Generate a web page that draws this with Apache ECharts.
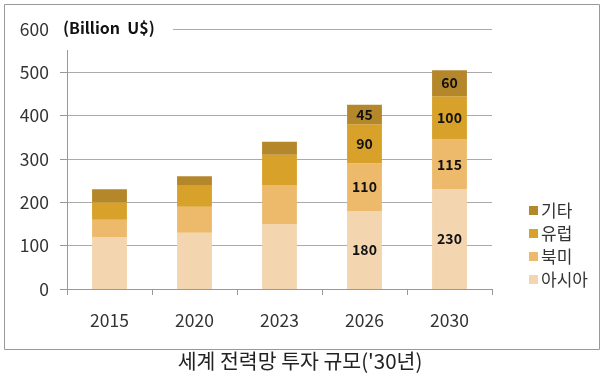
<!DOCTYPE html>
<html><head><meta charset="utf-8">
<script src="https://cdn.jsdelivr.net/npm/echarts@6/dist/echarts.min.js"></script>
<style>html,body{margin:0;padding:0;background:#fff}#c{width:600px;height:378px}</style>
</head><body><div id="c"></div>
<script>
const categories = ['2015', '2020', '2023', '2026', '2030'];
const asia = [120, 130, 150, 180, 230];
const northAmerica = [40, 60, 90, 110, 115];
const europe = [40, 50, 70, 90, 100];
const others = [30, 20, 30, 45, 60];
const seriesNames = ['아시아', '북미', '유럽', '기타'];
const labelledFrom = 3; // value labels shown for 2026 and 2030
const yTicks = [0, 100, 200, 300, 400, 500, 600];

const colors = ['#F3D5B0', '#EDBA6C', '#D8A22A', '#B5872B'];
const FONT = '"Noto Sans CJK KR", "Noto Sans", sans-serif';
const chart = echarts.init(document.getElementById('c'), null, {renderer: 'canvas'});
const values = [asia, northAmerica, europe, others];
const series = values.map((arr, k) => ({
  name: seriesNames[k],
  type: 'bar',
  stack: 'total',
  barWidth: '41%',
  itemStyle: {color: colors[k]},
  data: arr,
  label: {
    show: true,
    position: 'inside',
    color: '#111',
    fontWeight: 'bold',
    fontSize: 14,
    fontFamily: FONT,
    formatter: p => p.dataIndex >= labelledFrom ? String(p.value) : ''
  },
  emphasis: {disabled: true}
}));
chart.setOption({
  animation: false,
  backgroundColor: '#fff',
  grid: {left: 67, right: 108, top: 29, bottom: 89},
  legend: {
    orient: 'vertical',
    left: 524, top: 197,
    itemWidth: 9, itemHeight: 9, itemGap: 6,
    icon: 'rect',
    data: seriesNames.slice().reverse(),
    textStyle: {fontSize: 17, color: '#333', fontFamily: FONT, padding: [0, 0, 0, -2]}
  },
  xAxis: {
    type: 'category',
    data: categories,
    axisLine: {show: true, lineStyle: {color: '#999'}},
    axisTick: {show: true, length: 6, lineStyle: {color: '#999'}},
    axisLabel: {fontSize: 17.5, color: '#333', margin: 23, fontFamily: FONT}
  },
  yAxis: {
    type: 'value',
    min: yTicks[0], max: yTicks[yTicks.length - 1], interval: 100,
    axisLine: {show: true, lineStyle: {color: '#999'}},
    axisTick: {show: true, length: 7, lineStyle: {color: '#999'}},
    splitLine: {show: true, lineStyle: {color: '#aaa'}},
    axisLabel: {fontSize: 17.5, color: '#333', margin: 18, fontFamily: FONT}
  },
  series: series,
  graphic: [
    {type: 'rect', left: 2, top: 2, shape: {width: 595, height: 345}, style: {fill: 'none', stroke: '#999', lineWidth: 1}, z: 0, silent: true},
    {type: 'rect', left: 57, top: 14, shape: {width: 116, height: 36}, style: {fill: '#fff'}, z: 50, silent: true},
    {type: 'text', left: 63, top: 20, style: {text: '(Billion  U$)', font: 'bold 16px ' + FONT, fill: '#111'}, z: 60},
    {type: 'text', left: 'center', top: 351, style: {text: "세계 전력망 투자 규모('30년)", font: '400 20.5px ' + FONT, fill: '#222'}, z: 60}
  ]
});
</script></body></html>
